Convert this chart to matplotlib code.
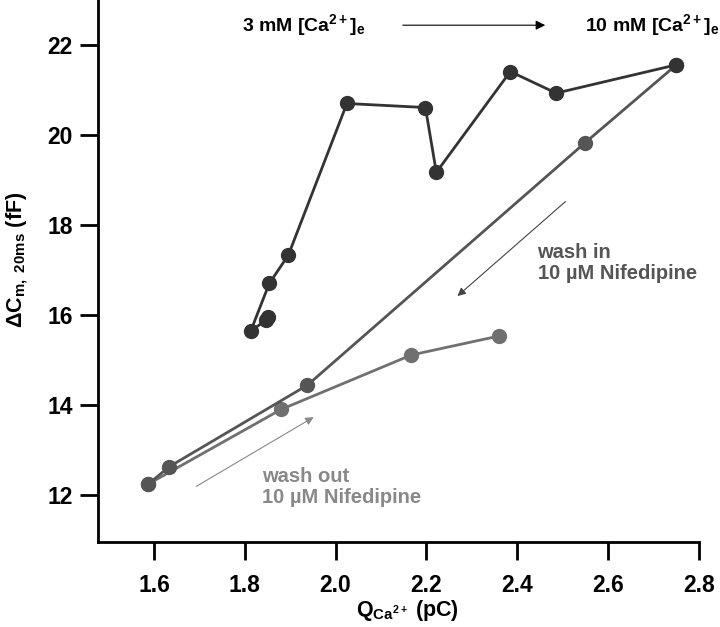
import matplotlib
matplotlib.use("Agg")
import matplotlib.pyplot as plt

plt.rcParams['font.family'] = ['Liberation Sans', 'DejaVu Sans']
plt.rcParams['font.weight'] = 'bold'
plt.rcParams['mathtext.fontset'] = 'custom'
plt.rcParams['mathtext.rm'] = 'Liberation Sans:bold'
plt.rcParams['mathtext.it'] = 'Liberation Sans:bold'
plt.rcParams['mathtext.bf'] = 'Liberation Sans:bold'

# 3 mM -> 10 mM [Ca2+]e (dark)
ca_q = [1.852, 1.846, 1.813, 1.854, 1.896, 2.025, 2.198, 2.222, 2.385, 2.486, 2.751]
ca_cm = [15.95, 15.88, 15.64, 16.70, 17.33, 20.70, 20.61, 19.17, 21.41, 20.93, 21.56]

# wash in nifedipine (medium gray)
win_q = [2.751, 2.550, 1.938, 1.634, 1.587]
win_cm = [21.56, 19.83, 14.44, 12.63, 12.24]

# wash out nifedipine (light gray)
wout_q = [1.587, 1.880, 2.167, 2.359]
wout_cm = [12.24, 13.90, 15.11, 15.53]

xticks = [1.6, 1.8, 2.0, 2.2, 2.4, 2.6, 2.8]
yticks = [12, 14, 16, 18, 20, 22]

fig = plt.figure(figsize=(7.2, 6.27), dpi=100)
ax = fig.add_axes([0.1357, 0.136, 0.8347, 0.864])

ax.plot(wout_q, wout_cm, '-o', color='#707070', lw=2, ms=10, zorder=2)
ax.plot(win_q, win_cm, '-o', color='#555555', lw=2, ms=10, zorder=3)
ax.plot(ca_q, ca_cm, '-o', color='#333333', lw=2, ms=10, zorder=4)

ax.set_xlim(1.476, 2.8)
ax.set_ylim(10.96, 23.0)
ax.set_xticks(xticks)
ax.set_xticklabels([f"{v:.1f}" for v in xticks])
ax.set_yticks(yticks)

for s in ['top', 'right']:
    ax.spines[s].set_visible(False)
for s in ['left', 'bottom']:
    ax.spines[s].set_linewidth(2)
ax.tick_params(axis='both', direction='out', length=13, width=2, labelsize=16.5)
ax.tick_params(axis='x', pad=10)
ax.tick_params(axis='y', pad=5)

ax.set_xlabel(r'$\mathregular{Q_{Ca^{2+}}}$ (pC)', fontsize=15.5, fontweight='bold')
ax.set_ylabel(r'$\mathregular{\Delta C_{m,\ 20ms}}$ (fF)', fontsize=15.5, fontweight='bold')
ax.xaxis.set_label_coords(0.515, -0.103)
ax.yaxis.set_label_coords(-0.112, 0.52)

ax.text(1.793, 22.45, r'3 mM [Ca$^{2+}$]$_e$', fontsize=14, fontweight='bold',
        ha='left', va='center', clip_on=False)
ax.text(2.549, 22.45, r'10 mM [Ca$^{2+}$]$_e$', fontsize=14, fontweight='bold',
        ha='left', va='center', clip_on=False)
ax.annotate('', xy=(2.468, 22.44), xytext=(2.142, 22.44),
            arrowprops=dict(arrowstyle='-|>', color='black', lw=0.8, mutation_scale=14))

ax.text(2.445, 17.16, 'wash in\n10 µM Nifedipine', fontsize=14.5, fontweight='bold',
        color='#555555', ha='left', va='center', linespacing=1.15)
ax.annotate('', xy=(2.264, 16.38), xytext=(2.511, 18.56),
            arrowprops=dict(arrowstyle='-|>', color='#444444', lw=0.8, mutation_scale=12))

ax.text(1.838, 12.18, 'wash out\n10 µM Nifedipine', fontsize=14.5, fontweight='bold',
        color='#888888', ha='left', va='center', linespacing=1.15)
ax.annotate('', xy=(1.957, 13.76), xytext=(1.688, 12.16),
            arrowprops=dict(arrowstyle='-|>', color='#888888', lw=0.8, mutation_scale=12))

fig.savefig('out.png', dpi=100)
